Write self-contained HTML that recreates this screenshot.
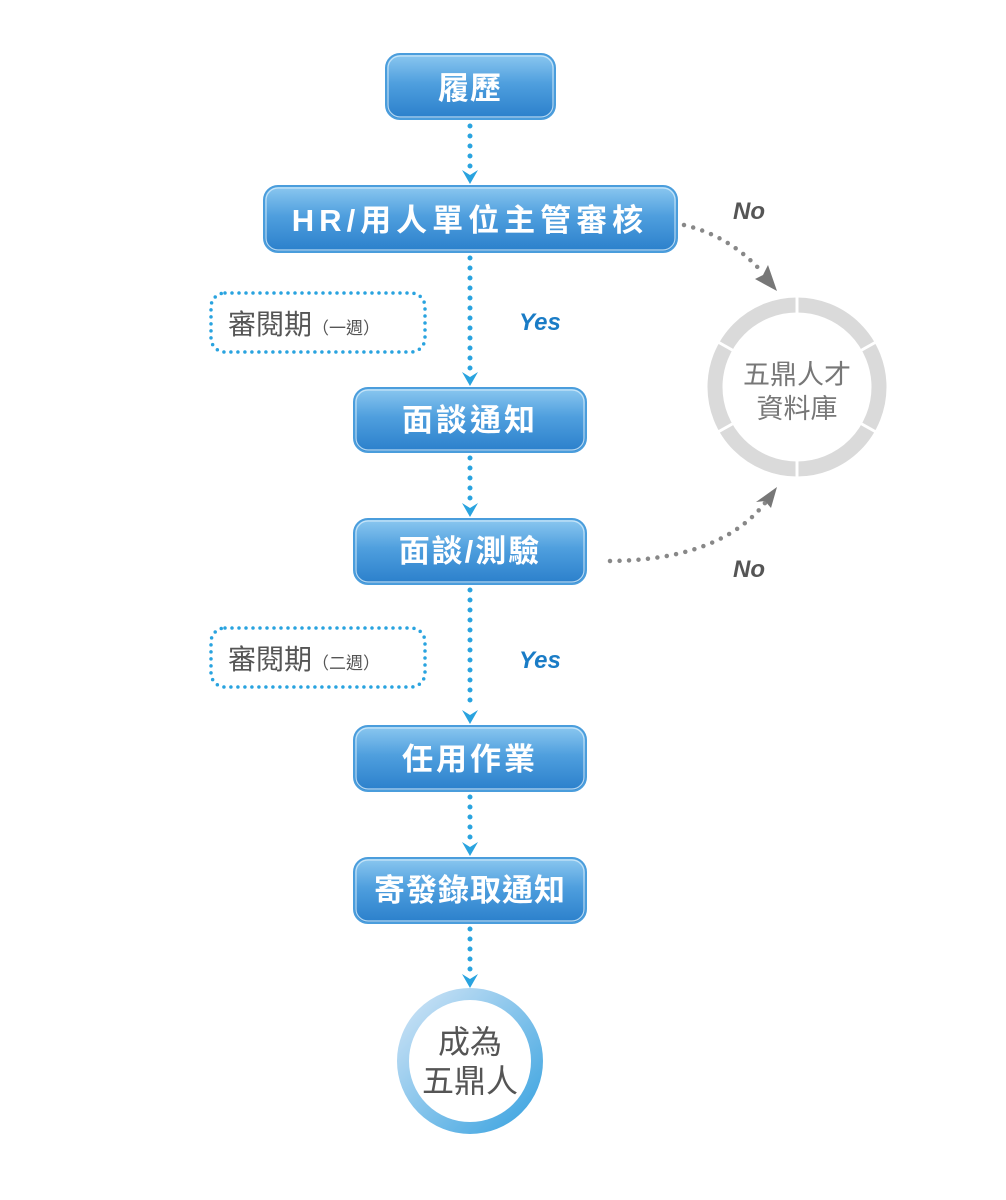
<!DOCTYPE html>
<html><head><meta charset="utf-8"><style>
body{margin:0;background:#fff}
svg{display:block}
text{font-family:"Liberation Sans","Noto Sans CJK TC",sans-serif}
</style></head><body>
<svg width="1006" height="1200" viewBox="0 0 1006 1200" xmlns="http://www.w3.org/2000/svg">
<defs>
<linearGradient id="bg" x1="0" y1="0" x2="0" y2="1">
<stop offset="0" stop-color="#8cc8f0"/><stop offset="0.45" stop-color="#4f9fde"/><stop offset="1" stop-color="#2a7fcb"/>
</linearGradient>
<linearGradient id="rg" x1="0" y1="0" x2="1" y2="1">
<stop offset="0" stop-color="#cfe4f6"/><stop offset="1" stop-color="#3aa3e0"/>
</linearGradient>
<g id="ab"><path d="M-8,-14 L0,0 L8,-14 L0,-9 Z" fill="#29a3df"/></g>
</defs>
<g stroke="#29a3df" stroke-width="5" stroke-linecap="round" stroke-dasharray="0 10" fill="none">
<line x1="470" y1="126" x2="470" y2="168"/>
<line x1="470" y1="258" x2="470" y2="370"/>
<line x1="470" y1="458" x2="470" y2="502"/>
<line x1="470" y1="590" x2="470" y2="708"/>
<line x1="470" y1="797" x2="470" y2="840"/>
<line x1="470" y1="929" x2="470" y2="972"/>
</g>
<use href="#ab" x="470" y="184"/><use href="#ab" x="470" y="386"/><use href="#ab" x="470" y="517"/>
<use href="#ab" x="470" y="724"/><use href="#ab" x="470" y="856"/><use href="#ab" x="470" y="988"/>
<g stroke="#888" stroke-width="4.5" stroke-linecap="round" stroke-dasharray="0 9.5" fill="none">
<path d="M684,225 Q730,236 762,272"/>
<path d="M610,561 Q720,560 765,503"/>
</g>
<path d="M777,291 L755,279 L763,275 L768,265 Z" fill="#777"/>
<path d="M777,487 L771,508 L765,501 L756,502 Z" fill="#777"/>
<g fill="url(#bg)" stroke="#4a9ddc" stroke-width="2">
<rect x="386" y="54" width="169" height="65" rx="14"/>
<rect x="264" y="186" width="413" height="66" rx="14"/>
<rect x="354" y="388" width="232" height="64" rx="14"/>
<rect x="354" y="519" width="232" height="65" rx="14"/>
<rect x="354" y="726" width="232" height="65" rx="14"/>
<rect x="354" y="858" width="232" height="65" rx="14"/>
</g>
<g fill="none" stroke="#d6ecfa" stroke-width="1.2" opacity="0.8">
<rect x="388" y="56" width="165" height="61" rx="12"/>
<rect x="266" y="188" width="409" height="62" rx="12"/>
<rect x="356" y="390" width="228" height="60" rx="12"/>
<rect x="356" y="521" width="228" height="61" rx="12"/>
<rect x="356" y="728" width="228" height="61" rx="12"/>
<rect x="356" y="860" width="228" height="61" rx="12"/>
</g>
<g fill="#fff" font-size="31" font-weight="bold" text-anchor="middle">
<text x="470" y="99" letter-spacing="1">履歷</text>
<text x="470" y="231" letter-spacing="5">HR/用人單位主管審核</text>
<text x="470" y="431" letter-spacing="3">面談通知</text>
<text x="470" y="562" letter-spacing="2">面談/測驗</text>
<text x="470" y="770" letter-spacing="3">任用作業</text>
<text x="470" y="901" letter-spacing="1">寄發錄取通知</text>
</g>
<g fill="none" stroke="#29a3df" stroke-width="3.5" stroke-linecap="round" stroke-dasharray="0 7">
<rect x="211" y="293" width="214" height="59" rx="14"/>
<rect x="211" y="628" width="214" height="59" rx="14"/>
</g>
<g fill="#555">
<text x="228" y="334" font-size="28">審閱期<tspan font-size="17">（一週）</tspan></text>
<text x="228" y="669" font-size="28">審閱期<tspan font-size="17">（二週）</tspan></text>
</g>
<g font-weight="bold" font-style="italic" font-size="24">
<text x="519" y="330" fill="#1a7cc6">Yes</text>
<text x="519" y="668" fill="#1a7cc6">Yes</text>
<text x="733" y="219" fill="#555">No</text>
<text x="733" y="577" fill="#555">No</text>
</g>
<circle cx="797" cy="387" r="82" fill="none" stroke="#dadada" stroke-width="15"/>
<g stroke="#fff" stroke-width="3">
<line x1="797" y1="296" x2="797" y2="314"/><line x1="797" y1="460" x2="797" y2="478"/>
<line x1="718" y1="342" x2="734" y2="351"/><line x1="860" y1="423" x2="876" y2="432"/>
<line x1="718" y1="432" x2="734" y2="423"/><line x1="860" y1="351" x2="876" y2="342"/>
</g>
<g fill="#777" font-size="27" text-anchor="middle">
<text x="797" y="384">五鼎人才</text><text x="797" y="418">資料庫</text>
</g>
<circle cx="470" cy="1061" r="67" fill="#fff" stroke="url(#rg)" stroke-width="12"/>
<g fill="#555" font-size="32" text-anchor="middle">
<text x="470" y="1053">成為</text><text x="470" y="1092">五鼎人</text>
</g>
</svg>
</body></html>
